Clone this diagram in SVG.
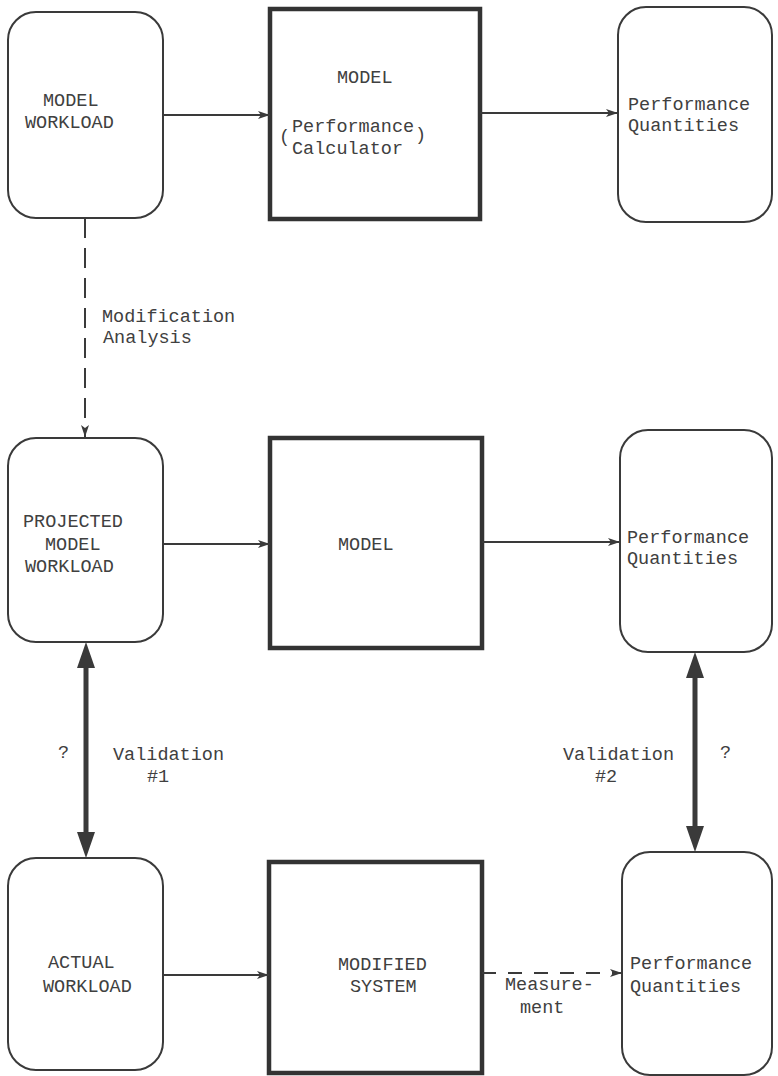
<svg xmlns="http://www.w3.org/2000/svg" width="778" height="1076" viewBox="0 0 778 1076">
<style>
.bg{fill:#ffffff}
.rnode{fill:#ffffff;stroke:#3a3a3a;stroke-width:2}
.bnode{fill:#ffffff;stroke:#333333;stroke-width:4.5}
.t{font-family:"Liberation Mono","DejaVu Sans Mono",monospace;font-size:18.5px;fill:#404040}
.c{fill:none;stroke:#3a3a3a;stroke-width:2}
.d{stroke-dasharray:20 10}
.d2{stroke-dasharray:14 12}
.thick{fill:none;stroke:#3a3a3a;stroke-width:5}
</style>
<defs>
<marker id="ah" viewBox="0 0 12 8" refX="12" refY="4" markerWidth="12" markerHeight="8" markerUnits="userSpaceOnUse" orient="auto">
<path d="M0,0 L12,4 L0,8 L3,4 z" fill="#3a3a3a"/>
</marker>
<marker id="big" viewBox="0 0 26 20" refX="0" refY="10" markerWidth="26" markerHeight="20" markerUnits="userSpaceOnUse" orient="auto-start-reverse">
<path d="M0,1 L26,10 L0,19 z" fill="#3a3a3a"/>
</marker>
</defs>
<rect class="bg" x="0" y="0" width="778" height="1076"/>

<g id="model-workload">
<rect class="rnode" x="8" y="12" width="155" height="206" rx="28" ry="28"/>
<text class="t" x="43" y="106">MODEL</text>
<text class="t" x="25" y="128">WORKLOAD</text>
</g>
<g id="model-calc">
<rect class="bnode" x="270" y="9" width="210" height="210"/>
<text class="t" x="337" y="83">MODEL</text>
<text class="t" x="292" y="132">Performance</text>
<text class="t" x="292" y="154">Calculator</text>
<text class="t" x="279" y="142">(</text>
<text class="t" x="415" y="140">)</text>
</g>
<g id="perf-top">
<rect class="rnode" x="618" y="7" width="154" height="215" rx="28" ry="28"/>
<text class="t" x="628" y="110">Performance</text>
<text class="t" x="628" y="131">Quantities</text>
</g>

<g id="projected-workload">
<rect class="rnode" x="8" y="438" width="155" height="204" rx="28" ry="28"/>
<text class="t" x="23" y="527">PROJECTED</text>
<text class="t" x="45" y="550">MODEL</text>
<text class="t" x="25" y="572">WORKLOAD</text>
</g>
<g id="model-mid">
<rect class="bnode" x="270" y="438" width="212" height="210"/>
<text class="t" x="338" y="550">MODEL</text>
</g>
<g id="perf-mid">
<rect class="rnode" x="620" y="430" width="152" height="222" rx="28" ry="28"/>
<text class="t" x="627" y="543">Performance</text>
<text class="t" x="627" y="564">Quantities</text>
</g>

<g id="actual-workload">
<rect class="rnode" x="8" y="858" width="155" height="212" rx="28" ry="28"/>
<text class="t" x="48" y="968">ACTUAL</text>
<text class="t" x="43" y="992">WORKLOAD</text>
</g>
<g id="modified-system">
<rect class="bnode" x="269" y="862" width="213" height="211"/>
<text class="t" x="338" y="970">MODIFIED</text>
<text class="t" x="350" y="992">SYSTEM</text>
</g>
<g id="perf-bot">
<rect class="rnode" x="622" y="852" width="150" height="223" rx="28" ry="28"/>
<text class="t" x="630" y="969">Performance</text>
<text class="t" x="630" y="992">Quantities</text>
</g>

<g id="connectors">
<path class="c" d="M163,115 H270" marker-end="url(#ah)"/>
<path class="c" d="M480,113 H618" marker-end="url(#ah)"/>
<path class="c d" d="M85,218 V437" marker-end="url(#ah)"/>
<path class="c" d="M163,544 H270" marker-end="url(#ah)"/>
<path class="c" d="M482,542 H620" marker-end="url(#ah)"/>
<path class="c" d="M163,975 H269" marker-end="url(#ah)"/>
<path class="c d2" d="M482,973 H622" marker-end="url(#ah)"/>
<path class="thick" d="M86,668 V832" marker-start="url(#big)" marker-end="url(#big)"/>
<path class="thick" d="M695,678 V826" marker-start="url(#big)" marker-end="url(#big)"/>
<text class="t" x="102" y="322">Modification</text>
<text class="t" x="103" y="343">Analysis</text>
<text class="t" x="58" y="758">?</text>
<text class="t" x="113" y="760">Validation</text>
<text class="t" x="147" y="782">#1</text>
<text class="t" x="563" y="760">Validation</text>
<text class="t" x="595" y="782">#2</text>
<text class="t" x="720" y="758">?</text>
<text class="t" x="505" y="990">Measure-</text>
<text class="t" x="520" y="1013">ment</text>
</g>
</svg>
